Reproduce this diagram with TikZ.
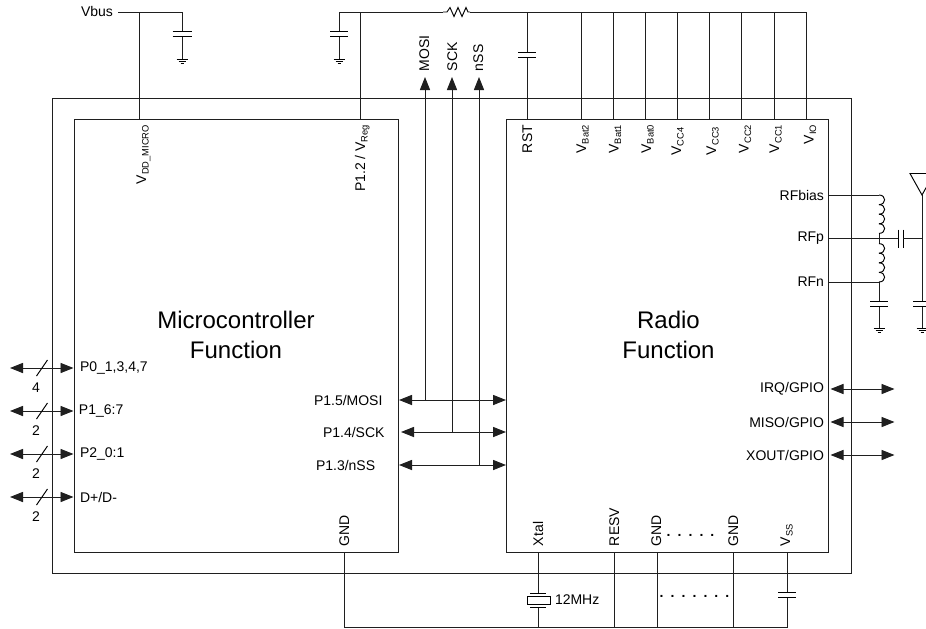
\documentclass[tikz,border=0pt]{standalone}
\usepackage{fontspec}
\setmainfont{Liberation Sans}
\usetikzlibrary{arrows.meta}
\renewcommand{\textsubscript}[1]{{\raisebox{-2pt}{\fontsize{7pt}{8pt}\selectfont #1}}}
\tikzset{
  wire/.style={draw=black!88,line width=0.72pt},
  chipbox/.style={draw=black!88,line width=0.72pt,rectangle,inner sep=0pt,outer sep=0pt,anchor=north west},
  lbl/.style={font=\fontsize{10.5pt}{12pt}\selectfont,inner sep=0pt,outer sep=0pt},
  lblup/.style={lbl,rotate=90,anchor=base east},
  lbldown/.style={lbl,rotate=90,anchor=base west},
  lblright/.style={lbl,anchor=east},
  lblleft/.style={lbl,anchor=west},
  title/.style={font=\fontsize{18pt}{22.5pt}\selectfont,align=center,inner sep=0pt},
  both/.style={wire,{Triangle[length=9.75pt,width=7.6pt]}-{Triangle[length=9.75pt,width=7.6pt]}},
  single/.style={wire,-{Triangle[length=9.75pt,width=7.6pt]}},
  plate/.style={draw=black,line width=0.72pt},
}
\newcommand{\capH}[3]{\draw[plate] (#1-#3,#2) -- (#1+#3,#2) (#1-#3,#2+5) -- (#1+#3,#2+5);}
\newcommand{\gnd}[2]{\draw[plate] (#1-5.5,#2) -- (#1+5.5,#2) (#1-3.5,#2+2) -- (#1+3.5,#2+2) (#1-1.5,#2+4) -- (#1+1.5,#2+4);}
\newcommand{\bumps}[2]{\foreach \k in {0,1,2,3}{\draw[plate] (#1,{#2+\k*9.6}) .. controls (#1+7.5,{#2+\k*9.6}) and (#1+7.5,{#2+(\k+1)*9.6}) .. (#1,{#2+(\k+1)*9.6});}}
\begin{document}
\begin{tikzpicture}[x=0.75pt,y=-0.75pt]
\clip (0,0) rectangle (926,629);
\fill[white] (0,0) rectangle (926,629);
% boxes
\node[chipbox,minimum width=599.25pt,minimum height=356.25pt] (outer) at (52.5,98) {};
\node[chipbox,minimum width=243pt,minimum height=324.4pt] (micro) at (74,119.5) {};
\node[chipbox,minimum width=241.5pt,minimum height=324.4pt] (radio) at (506,119.5) {};
\node[title] (mtitle) at (236,335) {Microcontroller\\Function};
\node[title] (rtitle) at (668.5,335) {Radio\\Function};
% Vbus rail
\node[lblright] (vbus) at (113,11) {Vbus};
\coordinate (vbusL) at (118,12);
\coordinate (vbusC) at (182,12);
\draw[wire] (vbusL) -- (vbusC) -- (182,31);
\draw[wire] (182,36) -- (182,59);
\capH{182}{31}{9.5}
\gnd{182}{59}
\coordinate (pinVdd) at (139,119.5);
\draw[wire] (pinVdd |- vbusL) -- (pinVdd);
% VIO rail
\coordinate (railL) at (339,12);
\coordinate (resL) at (443,12);
\coordinate (resR) at (470,12);
\coordinate (railR) at (806,12);
\draw[wire] (339,31) -- (railL) -- (resL);
\draw[plate] (resL) -- (447,12) -- (450,7.5) -- (454,16.5) -- (458,7.5) -- (462,16.5) -- (466,7.5) -- (468,12) -- (resR);
\draw[wire] (resR) -- (railR);
\draw[wire] (339,36) -- (339,59);
\capH{339}{31}{9}
\gnd{339}{59}
\coordinate (pinVreg) at (360,119.5);
\draw[wire] (pinVreg |- railL) -- (pinVreg);
\coordinate (pinRst) at (527,119.5);
\draw[wire] (pinRst |- railL) -- (527,52.3) (527,57.3) -- (pinRst);
\capH{527}{52.3}{9}
\foreach \x in {581,613,645,677,709,741,774,806}{
  \draw[wire] (\x,12) -- (\x,119.5);
}
% top labels
\node[lblup] (lvdd) at (146,125) {V\textsubscript{DD\_MICRO}};
\node[lblup] (lvreg) at (365,125) {P1.2 / V\textsubscript{Reg}};
\node[lblup] (lrst) at (532,125) {RST};
\node[lblup] (lb2) at (586,125) {V\textsubscript{Bat2}};
\node[lblup] (lb1) at (618.5,125) {V\textsubscript{Bat1}};
\node[lblup] (lb0) at (651,125) {V\textsubscript{Bat0}};
\node[lblup] (lc4) at (681,127.5) {V\textsubscript{CC4}};
\node[lblup] (lc3) at (716,127) {V\textsubscript{CC3}};
\node[lblup] (lc2) at (748.5,125) {V\textsubscript{CC2}};
\node[lblup] (lc1) at (779,125) {V\textsubscript{CC1}};
\node[lblup] (lio) at (813.5,125) {V\textsubscript{IO}};
% SPI
\node[lblleft] (p15) at (314,400) {P1.5/MOSI};
\node[lblleft] (p14) at (323,432) {P1.4/SCK};
\node[lblleft] (p13) at (316,465) {P1.3/nSS};
\coordinate (mosiL) at (399,400); \coordinate (mosiR) at (506,400);
\coordinate (sckL) at (401,432);  \coordinate (sckR) at (506,432);
\coordinate (nssL) at (399,465);  \coordinate (nssR) at (506,465);
\draw[both] (mosiL) -- (mosiR);
\draw[both] (sckL) -- (sckR);
\draw[both] (nssL) -- (nssR);
\node[lbldown] (lmosi) at (429,71) {MOSI};
\node[lbldown] (lsck) at (457,71) {SCK};
\node[lbldown] (lnss) at (483,71) {nSS};
\coordinate (mosiT) at (425,77); \coordinate (sckT) at (452,77); \coordinate (nssT) at (479,77);
\draw[single] (mosiT |- mosiL) -- (mosiT);
\draw[single] (sckT |- sckL) -- (sckT);
\draw[single] (nssT |- nssL) -- (nssT);
% left ports
\foreach \y/\t/\n/\lx in {368/{P0\_1,3,4,7}/4/80,411/{P1\_6:7}/2/79,454/{P2\_0:1}/2/80,497/{D+/D-}/2/80}{
  \draw[both] (10,\y) -- (73.5,\y);
  \draw[plate] (36.5,\y+8) -- (47.5,\y-8);
  \node[lbl] at (36,\y+20) {\n};
  \node[lblleft] at (\lx,\y) {\t};
}
% right ports
\foreach \y/\t in {389/{IRQ/GPIO},422/{MISO/GPIO},455/{XOUT/GPIO}}{
  \draw[both] (830.5,\y) -- (894.5,\y);
  \node[lblright] at (824,\y) {\t};
}
% RF
\node[lblright] (rfb) at (824,195) {RFbias};
\node[lblright] (rfp) at (824,238) {RFp};
\node[lblright] (rfn) at (824,282) {RFn};
\coordinate (rfbP) at (828,195); \coordinate (rfpP) at (828,238); \coordinate (rfnP) at (828,282);
\coordinate (coilT) at (879,195); \coordinate (coilM) at (879,238); \coordinate (coilB) at (879,282);
\draw[wire] (rfbP) -- (coilT);
\draw[wire] (rfnP) -- (coilB) -- (879,301);
\draw[wire] (879,233.4) -- (879,243.6);
\bumps{879}{195}
\bumps{879}{243.6}
\draw[wire] (879,306) -- (879,328);
\capH{879}{301}{9}
\gnd{879}{328}
\draw[wire] (rfpP) -- (898,238);
\draw[plate] (898,229.5) -- (898,247.5) (903,229.5) -- (903,247.5);
\draw[wire] (903,238) -- (922,238);
\draw[wire] (922,195) -- (922,301) (922,306) -- (922,328);
\capH{922}{301}{9}
\gnd{922}{328}
\draw[plate] (910,173.5) -- (922,195) -- (934,173.5) -- cycle;
% bottom
\node[lbldown] (lgnd) at (349,546) {GND};
\node[lbldown] (lxtal) at (543,546) {Xtal};
\node[lbldown] (lresv) at (619,546) {RESV};
\node[lbldown] (lg1) at (661,546) {GND};
\node[lbldown] (lg2) at (738,546) {GND};
\node[lbldown] (lvss) at (790,546) {V\textsubscript{SS}};
\node[lbl,anchor=base,font=\fontsize{10.5pt}{12pt}\selectfont\bfseries] (dtop) at (690.5,536) {.\kern 5.3pt.\kern 5.3pt.\kern 5.3pt.\kern 5.3pt.};
\node[lbl,anchor=base,font=\fontsize{10.5pt}{12pt}\selectfont\bfseries] (dbot) at (694.5,597) {.\kern 5.3pt.\kern 5.3pt.\kern 5.3pt.\kern 5.3pt.\kern 5.3pt.\kern 5.3pt.};
\node[lblleft] (mhz) at (555,600) {12MHz};
\coordinate (pinG) at (344,552);
\coordinate (busL) at (344,627);
\coordinate (busR) at (787,627);
\draw[wire] (pinG) -- (busL) -- (busR) -- (787,597);
\draw[wire] (787,592) -- (787,552);
\capH{787}{592}{9}
\draw[wire] (538,552) -- (538,593) (538,607) -- (538,627);
\draw[plate] (530,593) -- (546,593) (530,607) -- (546,607);
\draw[plate] (527.5,596.5) rectangle (550,604);
\draw[wire] (614,552) -- (614,627);
\draw[wire] (657,552) -- (657,627);
\draw[wire] (733,552) -- (733,627);
\end{tikzpicture}
\end{document}
